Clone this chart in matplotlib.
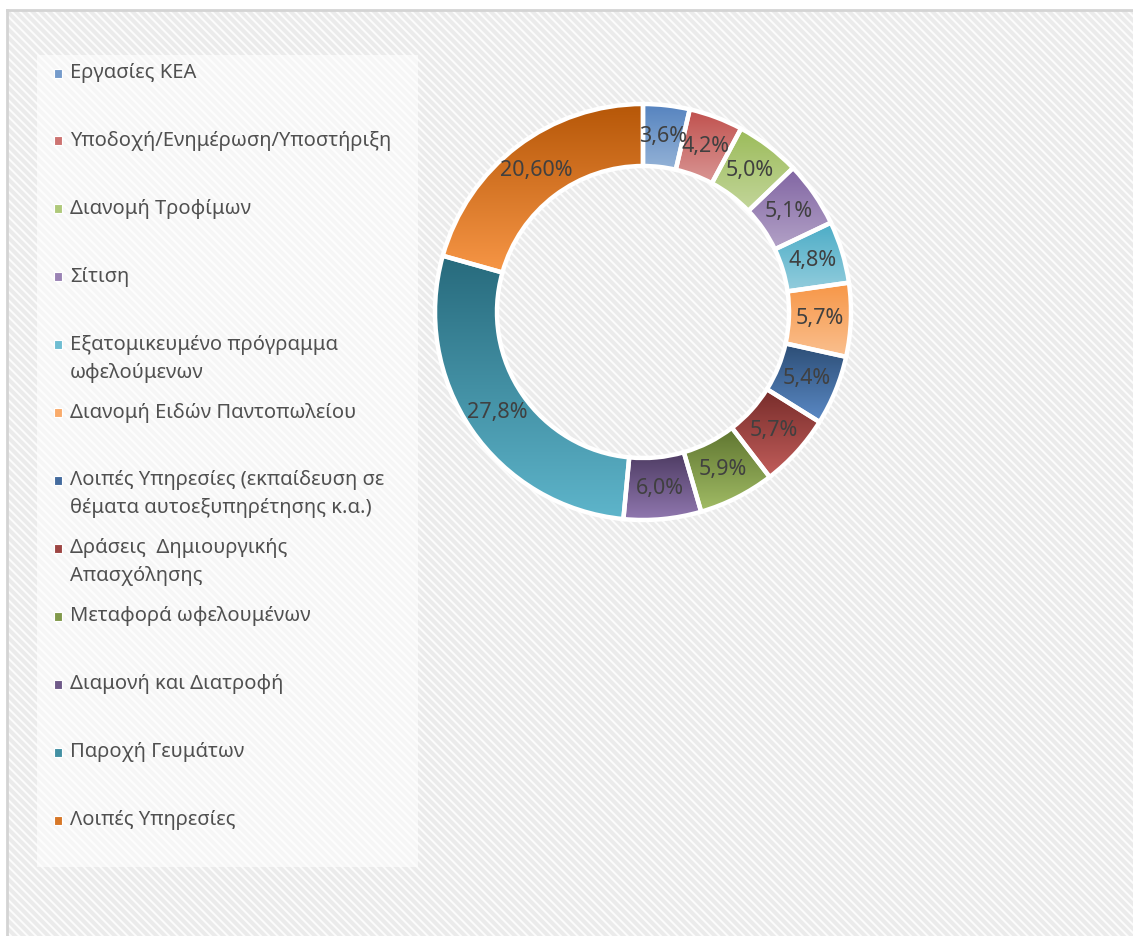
import numpy as np
import matplotlib
matplotlib.use("Agg")
import matplotlib.pyplot as plt
from matplotlib.patches import Rectangle
from matplotlib.lines import Line2D
from matplotlib.colors import to_rgb

# ---------------- data ----------------
categories = [
    "Εργασίες ΚΕΑ",
    "Υποδοχή/Ενημέρωση/Υποστήριξη",
    "Διανομή Τροφίμων",
    "Σίτιση",
    "Εξατομικευμένο πρόγραμμα\nωφελούμενων",
    "Διανομή Ειδών Παντοπωλείου",
    "Λοιπές Υπηρεσίες (εκπαίδευση σε\nθέματα αυτοεξυπηρέτησης κ.α.)",
    "Δράσεις  Δημιουργικής\nΑπασχόλησης",
    "Μεταφορά ωφελουμένων",
    "Διαμονή και Διατροφή",
    "Παροχή Γευμάτων",
    "Λοιπές Υπηρεσίες",
]
values = [3.6, 4.2, 5.0, 5.1, 4.8, 5.7, 5.4, 5.7, 5.9, 6.0, 27.8, 20.6]
value_labels = ["3,6%", "4,2%", "5,0%", "5,1%", "4,8%", "5,7%",
                "5,4%", "5,7%", "5,9%", "6,0%", "27,8%", "20,60%"]
# gradient colours (top, bottom)
top_colors = ["#5583BF", "#C0504D", "#9BBB59", "#8064A2", "#4BACC6", "#F79646",
              "#2C4D75", "#772C2A", "#5F7530", "#4D3B62", "#276A7C", "#B65708"]
bottom_colors = ["#95B3D7", "#D99694", "#C3D69B", "#B3A2C7", "#93CDDD", "#FAC090",
                 "#5B8AC6", "#C25E5B", "#A2BD66", "#9178B0", "#5EB5CB", "#F79646"]

plt.rcParams['font.family'] = ['Noto Sans', 'DejaVu Sans']

W, H = 1133, 936
fig = plt.figure(figsize=(W / 100, H / 100), dpi=100)
fig.patch.set_facecolor("white")

def fx(px):
    return px / W

def fy(py):
    return 1 - py / H

# chart area background with diagonal hatch
fx0, fy0 = fx(7), 0
bg = Rectangle((fx0, fy0), 1 - fx0, fy(10) - fy0, transform=fig.transFigure,
               facecolor="#EBEBEB", edgecolor="none", zorder=-3)
fig.add_artist(bg)
plt.rcParams['hatch.linewidth'] = 1.4
hatch = Rectangle((fx0, fy0), 1 - fx0, fy(10) - fy0, transform=fig.transFigure,
                  facecolor="none", edgecolor="#FCFCFC", hatch="\\\\\\\\", lw=0, zorder=-2.9)
fig.add_artist(hatch)
fig.add_artist(Line2D([fx(7), 1], [fy(10), fy(10)], transform=fig.transFigure,
                      color="#D4D4D4", lw=2.0, zorder=-2.8))
fig.add_artist(Line2D([fx(7), fx(7)], [0, fy(10)], transform=fig.transFigure,
                      color="#D4D4D4", lw=2.0, zorder=-2.8))

# legend box
lg = Rectangle((fx(37), fy(867)), fx(418) - fx(37), fy(55) - fy(867), transform=fig.transFigure,
               facecolor="white", edgecolor="none", alpha=0.6, zorder=-2.7)
fig.add_artist(lg)

# ---------------- donut ----------------
cx, cy = 643, 312
R, Rin = 208, 146
half = 215
ax = fig.add_axes([fx(cx - half), fy(cy + half), 2 * half / W, 2 * half / H])
ax.set_zorder(5)
ax.patch.set_alpha(0)
ax.set_axis_off()
wedges, _ = ax.pie(values, radius=R, startangle=90, counterclock=False,
                   wedgeprops=dict(width=R - Rin, edgecolor="white", linewidth=3.2))
ax.set_xlim(-half, half)
ax.set_ylim(-half, half)
ax.set_aspect("equal")

N = 256
for w, ct, cb in zip(wedges, top_colors, bottom_colors):
    w.set_facecolor("none")
    w.set_zorder(3)
    bb = w.get_path().get_extents()
    t = np.linspace(0, 1, N)[:, None, None]
    grad = (1 - t) * np.array(to_rgb(cb))[None, None, :] + t * np.array(to_rgb(ct))[None, None, :]
    im = ax.imshow(grad, extent=[bb.x0, bb.x1, bb.y0, bb.y1], origin="lower",
                   aspect="auto", interpolation="bilinear", zorder=2)
    im.set_clip_path(w)

rmid = (R + Rin) / 2
for w, lab in zip(wedges, value_labels):
    ang = np.deg2rad((w.theta1 + w.theta2) / 2)
    ax.text(rmid * np.cos(ang), rmid * np.sin(ang), lab, ha="center", va="center",
            fontsize=15.5, color="#404040", zorder=5)
ax.set_xlim(-half, half)
ax.set_ylim(-half, half)

# ---------------- legend ----------------
y_first = 73
dy = (820 - 73) / (len(categories) - 1)
line_h = 28
for i, (lab, ct, cb) in enumerate(zip(categories, top_colors, bottom_colors)):
    y = y_first + i * dy
    c = 0.5 * (np.array(to_rgb(ct)) + np.array(to_rgb(cb)))
    fig.add_artist(Rectangle((fx(53.5), fy(y + 4.5)), 9 / W, 9 / H, transform=fig.transFigure,
                             facecolor=c, edgecolor="white", lw=0.8, zorder=2))
    for j, line in enumerate(lab.split("\n")):
        fig.text(fx(70), fy(y + j * line_h), line, ha="left", va="center",
                 fontsize=14.5, color="#505050")

fig.savefig("out.png", dpi=100)
